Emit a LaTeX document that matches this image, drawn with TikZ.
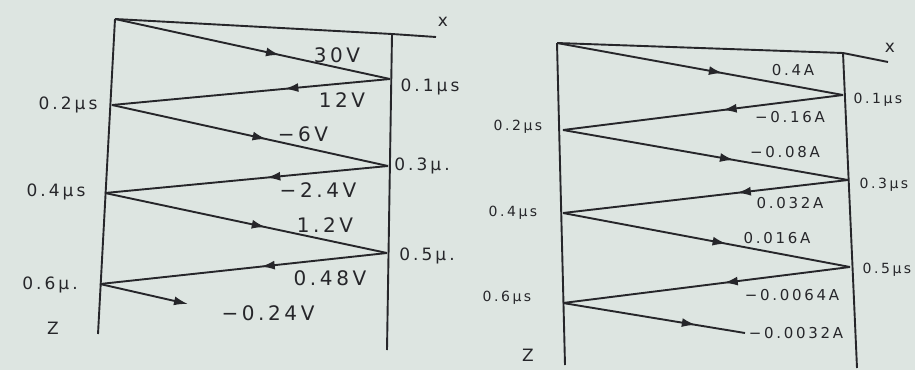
\documentclass[tikz,border=0pt]{standalone}
\usepackage{fontspec}
\newfontfamily\hand{DejaVu Sans}[LetterSpace=18]
\usetikzlibrary{arrows.meta,decorations.markings}
\definecolor{paper}{RGB}{221,229,225}
\definecolor{ink}{RGB}{38,38,42}
\tikzset{
  wire/.style={draw=ink,line width=1.9pt},
  arr/.style={postaction={decorate},decoration={markings,mark=at position #1 with {\arrow{Latex[length=14pt,width=9pt]}}}},
  bigl/.style={text=ink,font=\hand\fontsize{20}{20}\selectfont,inner sep=0pt},
  tl/.style={text=ink,font=\hand\fontsize{17}{17}\selectfont,inner sep=0pt},
  sml/.style={text=ink,font=\hand\fontsize{15}{15}\selectfont,inner sep=0pt},
  tr/.style={text=ink,font=\hand\fontsize{14}{14}\selectfont,inner sep=0pt},
}
\begin{document}
\begin{tikzpicture}[x=1pt,y=-1pt]
\fill[paper] (0,0) rectangle (915,370);
\useasboundingbox (0,0) rectangle (915,370);
% ---------- left diagram ----------
\coordinate (A0) at (115,19);
\coordinate (TR1) at (392,34);
\coordinate (XE1) at (436,37);
\coordinate (LB1) at (98,334);
\coordinate (RB1) at (387,350);
\coordinate (A1) at (390,79);
\coordinate (A2) at (112,105);
\coordinate (A3) at (388,166);
\coordinate (A4) at (105,193);
\coordinate (A5) at (387,253);
\coordinate (A6) at (100,284);
\coordinate (A7) at (188,304);
\draw[wire] (A0) -- (TR1) -- (XE1);
\draw[wire] (A0) -- (LB1);
\draw[wire] (TR1) -- (RB1);
\draw[wire,arr=0.6] (A0) -- (A1);
\draw[wire,arr=0.38] (A1) -- (A2);
\draw[wire,arr=0.56] (A2) -- (A3);
\draw[wire,arr=0.43] (A3) -- (A4);
\draw[wire,arr=0.57] (A4) -- (A5);
\draw[wire,arr=0.44] (A5) -- (A6);
\draw[wire,-{Latex[length=14pt,width=9pt]}] (A6) -- (A7);
\node[tl] (x1) at (443,22) {x};
\node[bigl] (v1) at (337,55) {30V};
\node[bigl] (v2) at (342,100) {12V};
\node[bigl] (v3) at (303,134) {−6V};
\node[bigl] (v4) at (318,190) {−2.4V};
\node[bigl] (v5) at (325,225) {1.2V};
\node[bigl] (v6) at (330,278) {0.48V};
\node[bigl] (v7) at (268,313) {−0.24V};
\node[tl] (t1) at (430,87) {0.1μs};
\node[tl] (t2) at (68,105) {0.2μs};
\node[tl] (t3) at (422,166) {0.3μ.};
\node[tl] (t4) at (56,192) {0.4μs};
\node[tl] (t5) at (427,256) {0.5μ.};
\node[tl] (t6) at (50,285) {0.6μ.};
\node[tl] (z1) at (53,328) {Z};
% ---------- right diagram ----------
\coordinate (B0) at (557,43);
\coordinate (TR2) at (843,53);
\coordinate (XE2) at (888,62);
\coordinate (LB2) at (565,365);
\coordinate (RB2) at (857,368);
\coordinate (B1) at (843,95);
\coordinate (B2) at (563,130);
\coordinate (B3) at (848,180);
\coordinate (B4) at (563,213);
\coordinate (B5) at (850,267);
\coordinate (B6) at (563,303);
\coordinate (B7) at (745,333);
\draw[wire] (B0) -- (TR2) -- (XE2);
\draw[wire] (B0) -- (LB2);
\draw[wire] (TR2) -- (RB2);
\draw[wire,arr=0.58] (B0) -- (B1);
\draw[wire,arr=0.43] (B1) -- (B2);
\draw[wire,arr=0.6] (B2) -- (B3);
\draw[wire,arr=0.39] (B3) -- (B4);
\draw[wire,arr=0.57] (B4) -- (B5);
\draw[wire,arr=0.44] (B5) -- (B6);
\draw[wire,arr=0.73] (B6) -- (B7);
\node[tl] (x2) at (890,48) {x};
\node[sml] (i1) at (793,70) {0.4A};
\node[sml] (i2) at (790,117) {−0.16A};
\node[sml] (i3) at (785,152) {−0.08A};
\node[sml] (i4) at (790,203) {0.032A};
\node[sml] (i5) at (777,238) {0.016A};
\node[sml] (i6) at (792,295) {−0.0064A};
\node[sml] (i7) at (796,333) {−0.0032A};
\node[tr] (s1) at (878,100) {0.1μs};
\node[tr] (s2) at (518,127) {0.2μs};
\node[tr] (s3) at (884,185) {0.3μs};
\node[tr] (s4) at (513,213) {0.4μs};
\node[tr] (s5) at (887,270) {0.5μs};
\node[tr] (s6) at (507,298) {0.6μs};
\node[tl] (z2) at (528,355) {Z};
\end{tikzpicture}
\end{document}
